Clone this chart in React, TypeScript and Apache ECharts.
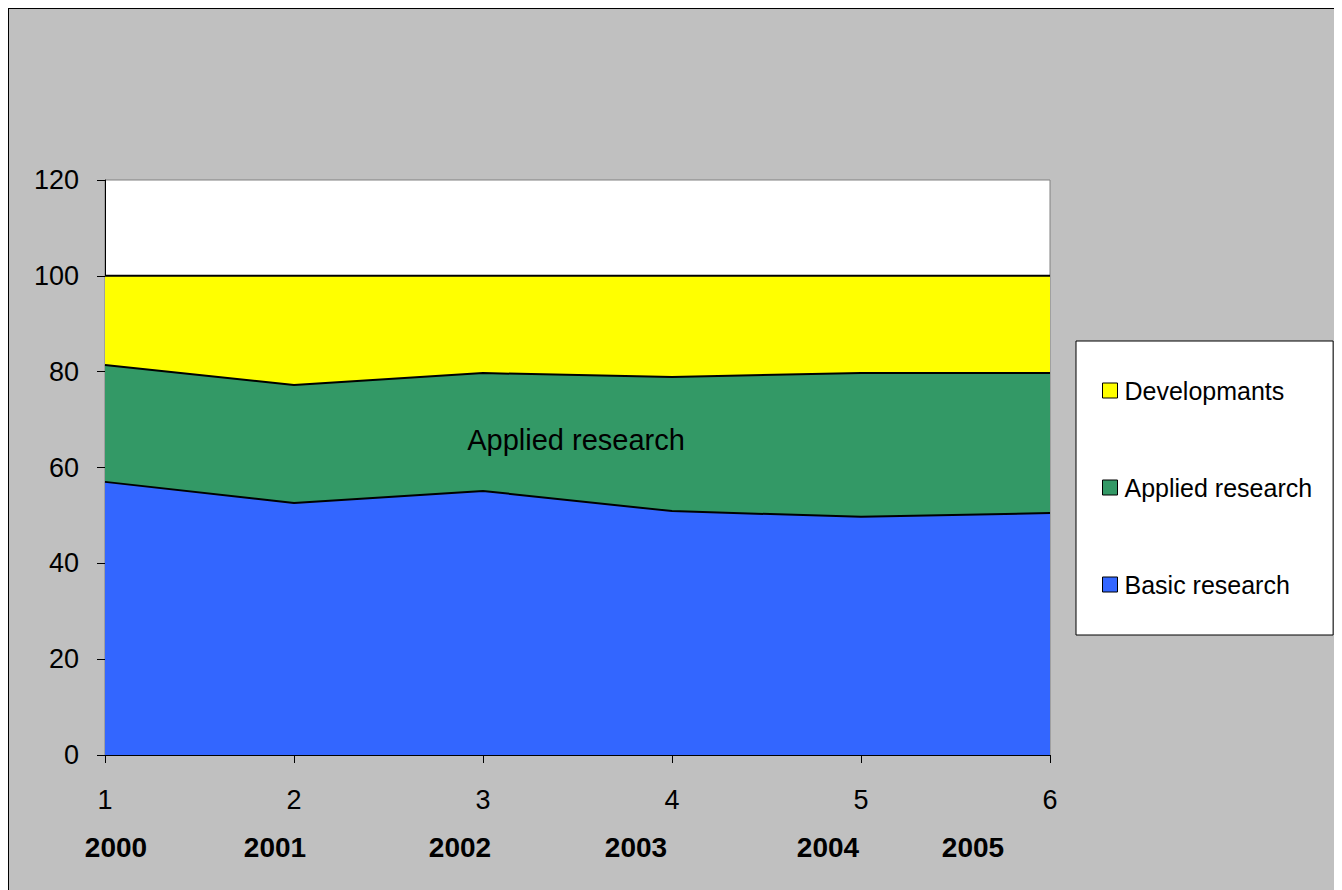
import React, { useEffect, useRef } from "react";
import * as echarts from "echarts";

const categories = ["1", "2", "3", "4", "5", "6"];
const years = ["2000", "2001", "2002", "2003", "2004", "2005"];
const yearCenters = [116, 275, 460, 636, 828, 973];
const basicResearch = [57.0, 52.6, 55.1, 50.9, 49.7, 50.5];
const appliedResearch = [24.4, 24.6, 24.6, 28.0, 30.0, 29.2];
const developments = [18.6, 22.8, 20.3, 21.1, 20.3, 20.3];

const FONT = "Liberation Sans, Arial, sans-serif";
const OFF = 9;
const EXTRA = 18;

export default function App() {
  const ref = useRef<HTMLDivElement>(null);
  useEffect(() => {
    if (!ref.current) return;
    document.documentElement.style.overflow = "hidden";
    document.body.style.overflow = "hidden";
    const chart = echarts.init(ref.current, null, { renderer: "svg" });
    const mk = (name: string, data: number[], color: string) => ({
      name,
      type: "line",
      stack: "total",
      data,
      symbol: "none",
      color,
      itemStyle: { color },
      lineStyle: { color: "#000", width: 2 },
      areaStyle: { color, opacity: 1 },
    });
    chart.setOption({
      animation: false,
      backgroundColor: "#C0C0C0",
      textStyle: { fontFamily: FONT },
      grid: {
        left: 96,
        top: 171,
        right: 292 + EXTRA,
        bottom: 135,
        show: true,
        backgroundColor: "#FFFFFF",
        borderColor: "#808080",
        borderWidth: 1,
      },
      xAxis: {
        type: "category",
        data: categories,
        boundaryGap: false,
        axisLine: { lineStyle: { color: "#000", width: 1 } },
        axisTick: { show: true, length: 8, lineStyle: { color: "#000" }, interval: 0 },
        axisLabel: { color: "#000", fontSize: 27, fontFamily: FONT, margin: 31, interval: 0 },
        splitLine: { show: false },
      },
      yAxis: {
        type: "value",
        min: 0,
        max: 120,
        interval: 20,
        axisLine: { show: true, lineStyle: { color: "#000", width: 1 } },
        axisTick: { show: true, length: 8, lineStyle: { color: "#000" } },
        axisLabel: { color: "#000", fontSize: 27, fontFamily: FONT, margin: 26 },
        splitLine: { show: false },
      },
      legend: {
        orient: "vertical",
        left: 1076 - OFF,
        top: 341 - OFF,
        backgroundColor: "#FFFFFF",
        borderColor: "#000",
        borderWidth: 1,
        padding: [37, 21, 38, 26],
        itemGap: 72,
        itemWidth: 15,
        itemHeight: 15,
        icon: "rect",
        textStyle: { color: "#000", fontSize: 25, fontFamily: FONT, padding: [0, 0, 0, 2] },
        data: [
          { name: "Developmants", itemStyle: { color: "#FFFF00", borderColor: "#000", borderWidth: 1 } },
          { name: "Applied research", itemStyle: { color: "#339966", borderColor: "#000", borderWidth: 1 } },
          { name: "Basic research", itemStyle: { color: "#3366FF", borderColor: "#000", borderWidth: 1 } },
        ],
      },
      graphic: [
        ...years.map((y, i) => ({
          type: "text",
          x: yearCenters[i] - OFF,
          y: 847 - OFF,
          style: {
            text: y,
            fontFamily: FONT,
            fontSize: 28,
            fontWeight: "bold",
            fill: "#000",
            align: "center",
            verticalAlign: "middle",
          },
        })),
        {
          type: "text",
          x: 576 - OFF,
          y: 440 - OFF,
          z: 100,
          style: {
            text: "Applied research",
            fontFamily: FONT,
            fontSize: 29,
            fill: "#000",
            align: "center",
            verticalAlign: "middle",
          },
        },
      ],
      series: [
        mk("Basic research", basicResearch, "#3366FF"),
        mk("Applied research", appliedResearch, "#339966"),
        mk("Developmants", developments, "#FFFF00"),
      ],
    });
    return () => chart.dispose();
  }, []);
  return (
    <div
      style={{
        width: 1334 + EXTRA,
        height: 882,
        boxSizing: "border-box",
        borderLeft: "1px solid #000",
        borderTop: "1px solid #000",
        background: "#C0C0C0",
      }}
    >
      <div ref={ref} style={{ width: 1333 + EXTRA, height: 881 }} />
    </div>
  );
}
